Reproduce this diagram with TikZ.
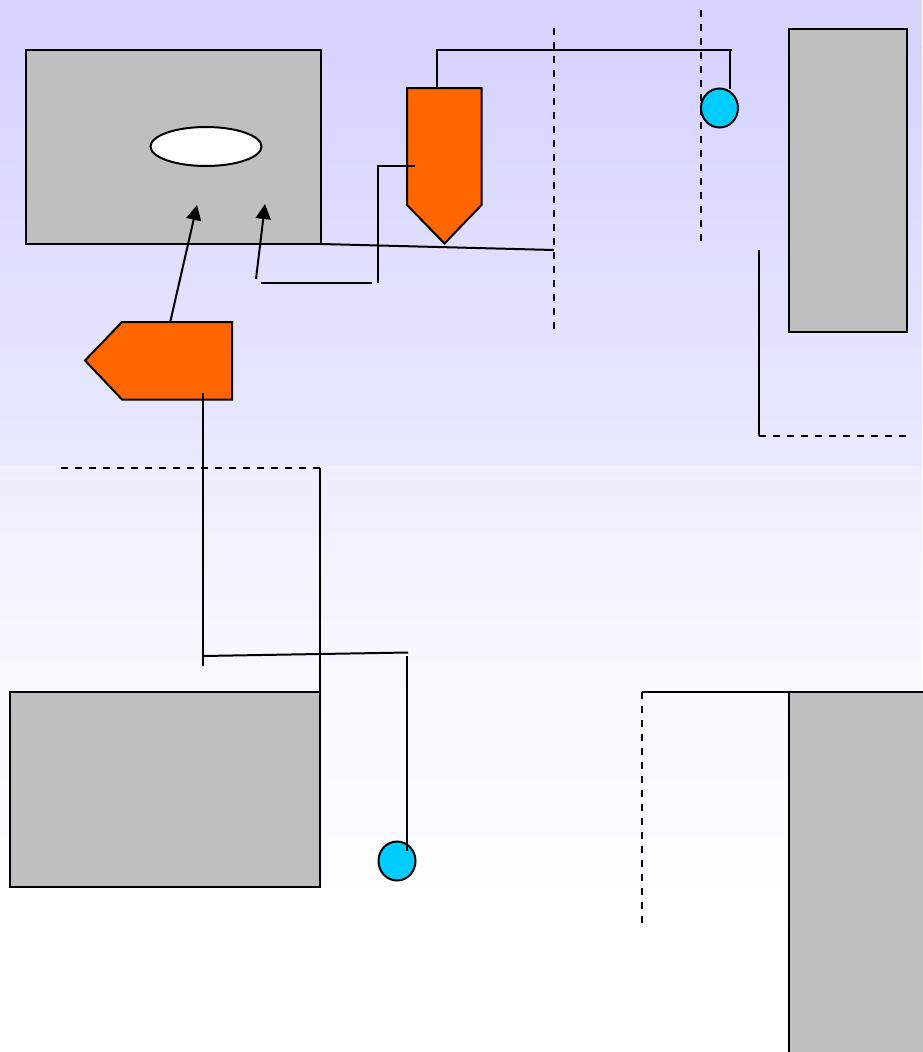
\documentclass[tikz,border=0pt]{standalone}
\usetikzlibrary{arrows.meta,shapes.geometric,calc}
\definecolor{wall}{HTML}{BFBFBF}
\definecolor{burner}{HTML}{FF6600}
\definecolor{ball}{HTML}{00CCFF}
\definecolor{bgA}{HTML}{D6D3FF}
\definecolor{bgB}{HTML}{E8EAFF}
\definecolor{bgC}{HTML}{EFEDFD}
\definecolor{bgD}{HTML}{FAF9FF}
\definecolor{bgE}{HTML}{FDFDFF}
\tikzset{
  ln/.style={draw=black,line width=2pt},
  dsh/.style={ln,dash pattern=on 7pt off 7pt},
  block/.style={ln,fill=wall,rectangle,inner sep=0pt,outer sep=0pt},
  disc/.style={ln,fill=ball,ellipse,inner sep=0pt,outer sep=0pt,minimum width=37pt,minimum height=39pt},
  hole/.style={ln,fill=white,ellipse,inner sep=0pt,outer sep=0pt,minimum width=111pt,minimum height=39pt},
  head/.style={ln,fill=burner,line join=miter},
  arr/.style={ln,-{Triangle[length=15pt,width=15pt]}}
}
\begin{document}
\begin{tikzpicture}[x=1pt,y=-1pt]
\useasboundingbox (0,0) rectangle (922,1052);
\fill[bgA] (0,0) rectangle (922,46);
\shade[top color=bgA,bottom color=bgB] (0,45) rectangle (922,466);
\shade[top color=bgC,bottom color=bgD] (0,465) rectangle (922,691);
\shade[top color=bgD,bottom color=bgE] (0,690) rectangle (922,866);
\shade[top color=bgE,bottom color=white] (0,865) rectangle (922,945);
\fill[white] (0,944) rectangle (922,1052);
% coordinates
\coordinate (a1) at (437,88);\coordinate (a2) at (437,50);\coordinate (a3) at (732,50);
\coordinate (a4) at (730,50);\coordinate (a5) at (730,89);
\coordinate (d1a) at (554.2,28);\coordinate (d1b) at (554.2,330);
\coordinate (d2a) at (701,10);\coordinate (d2b) at (701,242);
\coordinate (s1) at (321,244);\coordinate (s2) at (554,250);
\coordinate (t1) at (415,166);\coordinate (t2) at (378.2,166);\coordinate (t3) at (378.2,283);
\coordinate (u1) at (261,283);\coordinate (u2) at (372,283);
\coordinate (v1) at (256,279);\coordinate (v2) at (265,204);
\coordinate (w1) at (170,323);\coordinate (w2) at (197,205);
\coordinate (x1) at (203,393);\coordinate (x2) at (203,666);
\coordinate (y1) at (203,656);\coordinate (y2) at (408,652.5);
\coordinate (z1) at (407,656);\coordinate (z2) at (407,851);
\coordinate (e1) at (61,468);\coordinate (e2) at (320,468);\coordinate (e3) at (320,700);
\coordinate (f1) at (759,250);\coordinate (f2) at (759,436);\coordinate (f3) at (907,436);
\coordinate (g1) at (789,692);\coordinate (g2) at (642,692);\coordinate (g3) at (642,923);
% dashed guides behind the ball
\draw[dsh] (d1a) -- (d1b);
\draw[dsh] (d2a) -- (d2b);
% blocks
\node[block,minimum width=295pt,minimum height=194pt] (b1) at (173.5,147) {};
\node[block,minimum width=117.5pt,minimum height=303pt] (b2) at (847.75,180.5) {};
\node[block,minimum width=310pt,minimum height=194.5pt] (b3) at (165,789.25) {};
\node[block,minimum width=140pt,minimum height=370pt] (b4) at (859,877) {};
\node[hole] (h) at (206,146.5) {};
% burners
\draw[head] (407,88) -- (481.5,88) -- (481.5,205) -- (444.5,243.5) -- (407,205) -- cycle;
\draw[head] (85,360.5) -- (122,322) -- (232,322) -- (232,399.5) -- (122,399.5) -- cycle;
% balls
\node[disc] (c1) at (719.5,108) {};
\node[disc] (c2) at (397,861) {};
% connectors
\draw[ln] (a1) -- (a2) -- (a3);
\draw[ln] (a4) -- (a5);
\draw[ln] (s1) -- (s2);
\draw[ln] (t1) -- (t2) -- (t3);
\draw[ln] (u1) -- (u2);
\draw[arr] (v1) -- (v2);
\draw[arr] (w1) -- (w2);
\draw[ln] (x1) -- (x2);
\draw[ln] (y1) -- (y2);
\draw[ln] (z1) -- (z2);
\draw[dsh] (e1) -- (e2);
\draw[ln] (e2) -- (e3);
\draw[ln] (f1) -- (f2);
\draw[dsh] (f2) -- (f3);
\draw[ln] (g1) -- (g2);
\draw[dsh] (g2) -- (g3);
\end{tikzpicture}
\end{document}
